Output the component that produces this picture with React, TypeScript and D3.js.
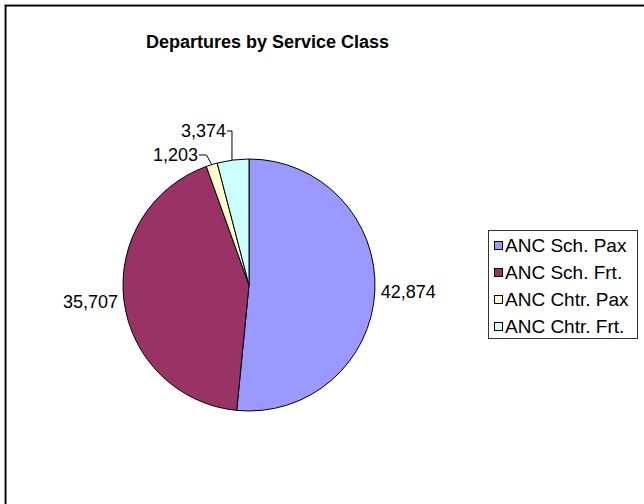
import React from "react";
import * as d3 from "d3";

const categories = ["ANC Sch. Pax", "ANC Sch. Frt.", "ANC Chtr. Pax", "ANC Chtr. Frt."];
const values = [42874, 35707, 1203, 3374];
const colors = ["#9999FF", "#993366", "#FFFFCC", "#CCFFFF"];

const width = 644;
const height = 504;
const font = "Arial, 'Liberation Sans', sans-serif";

const App = () => {
  const ref = React.useRef<SVGSVGElement | null>(null);

  React.useEffect(() => {
    const svg = d3.select(ref.current);
    svg.selectAll("*").remove();

    // chart area border (right/bottom run off the picture)
    svg.append("rect").attr("x", 4.5).attr("y", 4.5).attr("width", 700).attr("height", 600)
      .attr("fill", "#fff").attr("stroke", "#999").attr("stroke-width", 1);
    svg.append("rect").attr("x", 5.75).attr("y", 5.75).attr("width", 700).attr("height", 600)
      .attr("fill", "none").attr("stroke", "#000").attr("stroke-width", 1.5);

    svg.append("text")
      .attr("x", 267.5).attr("y", 48)
      .attr("text-anchor", "middle")
      .attr("font-family", font).attr("font-size", 18).attr("font-weight", "bold")
      .text("Departures by Service Class");

    const cx = 249, cy = 285, r = 126;
    const pie = d3.pie<number>().sort(null).value((d) => d);
    const arcs = pie(values);
    const arc = d3.arc<d3.PieArcDatum<number>>().innerRadius(0).outerRadius(r);

    const g = svg.append("g").attr("transform", `translate(${cx},${cy})`);
    g.selectAll("path").data(arcs).enter().append("path")
      .attr("d", arc)
      .attr("fill", (d, i) => colors[i])
      .attr("stroke", "#000").attr("stroke-width", 1);

    const fmt = d3.format(",");
    const mid = (d: d3.PieArcDatum<number>) => (d.startAngle + d.endAngle) / 2;

    // big slices: label just outside the rim
    arcs.slice(0, 2).forEach((d) => {
      const a = mid(d);
      const lx = Math.sin(a) * (r + 6);
      const ly = -Math.cos(a) * (r + 6);
      g.append("text")
        .attr("x", lx).attr("y", ly + 6.5)
        .attr("text-anchor", lx > 0 ? "start" : "end")
        .attr("font-family", font).attr("font-size", 18)
        .text(fmt(d.data));
    });

    // small slices: labels moved up with leader lines
    const moved = [
      { i: 2, tx: 198, ty: 161, path: (ex: number, ey: number) => [[199, 155], [206.5, 155], [ex, ey]] },
      { i: 3, tx: 226, ty: 137, path: (ex: number, ey: number) => [[227, 131], [ex - 1, 131], [ex - 1, ey]] },
    ];
    moved.forEach((m) => {
      const d = arcs[m.i];
      const a = mid(d);
      const ex = cx + Math.sin(a) * r;
      const ey = cy - Math.cos(a) * r;
      svg.append("path")
        .attr("d", d3.line()(m.path(ex, ey) as [number, number][]))
        .attr("fill", "none").attr("stroke", "#000").attr("stroke-width", 1);
      svg.append("text")
        .attr("x", m.tx).attr("y", m.ty)
        .attr("text-anchor", "end")
        .attr("font-family", font).attr("font-size", 18)
        .text(fmt(d.data));
    });

    // legend
    const lg = svg.append("g");
    lg.append("rect").attr("x", 488.5).attr("y", 230.5).attr("width", 149).attr("height", 108)
      .attr("fill", "#fff").attr("stroke", "#333").attr("stroke-width", 1);
    categories.forEach((c, i) => {
      const by = 252 + i * 27;
      lg.append("rect").attr("x", 494.5).attr("y", by - 10.5).attr("width", 8).attr("height", 8)
        .attr("fill", colors[i]).attr("stroke", "#000").attr("stroke-width", 1);
      lg.append("text").attr("x", 505).attr("y", by)
        .attr("font-family", font).attr("font-size", 19)
        .text(c);
    });
  }, []);

  return (
    <svg ref={ref} width={width} height={height}
      style={{ position: "fixed", left: 0, top: 0, background: "#fff" }} />
  );
};

export default App;
